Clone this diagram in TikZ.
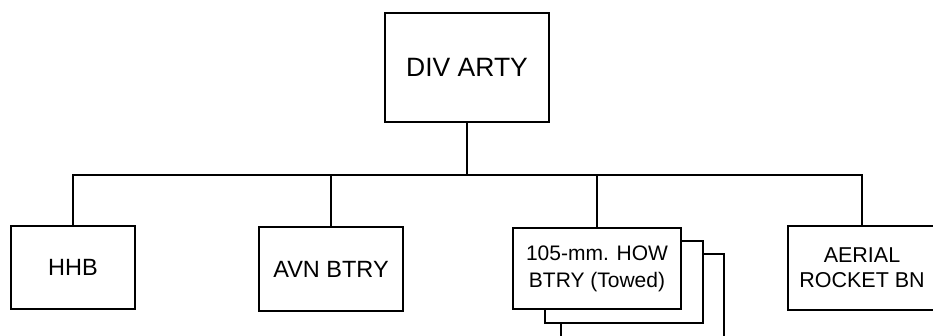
\documentclass[tikz,border=0pt]{standalone}
\usepackage{fontspec}
\setmainfont{Liberation Sans}

\begin{document}
\begin{tikzpicture}[x=1pt, y=-1pt, line width=2pt,
    unit/.style={draw, fill=white, inner sep=0pt, align=center,
      font=\fontsize{23.5}{25}\selectfont}]
  \clip (0,0) rectangle (933,336);

  % Top box
  \node[unit, minimum width=164, minimum height=109,
    font=\fontsize{26.5}{28}\selectfont] (div) at (467,67.5) {DIV ARTY};

  % Stacked howitzer batteries (back to front)
  \node[unit, minimum width=163, minimum height=100] (how3) at (642.5,304) {};
  \node[unit, minimum width=158, minimum height=82] (how2) at (624,282) {};
  \node[unit, minimum width=168, minimum height=81,
    font=\fontsize{21}{27}\selectfont] (how) at (597,268.5) {105-mm. HOW\\BTRY (Towed)};

  % Other units
  \node[unit, minimum width=124, minimum height=83] (hhb) at (73,267.5) {HHB};
  \node[unit, minimum width=144, minimum height=84] (avn) at (331,269) {AVN BTRY};
  \node[unit, minimum width=148, minimum height=84,
    font=\fontsize{21.5}{25}\selectfont] (aerial) at (862,268) {AERIAL\\ROCKET BN};

  % Connectors
  \coordinate (bus) at (467,175);
  \draw (div.south) -- (bus);
  \draw (hhb.north) |- (bus) -| (aerial.north);
  \draw (avn.north) -- (avn.north |- bus);
  \draw (how.north) -- (how.north |- bus);
\end{tikzpicture}
\end{document}
